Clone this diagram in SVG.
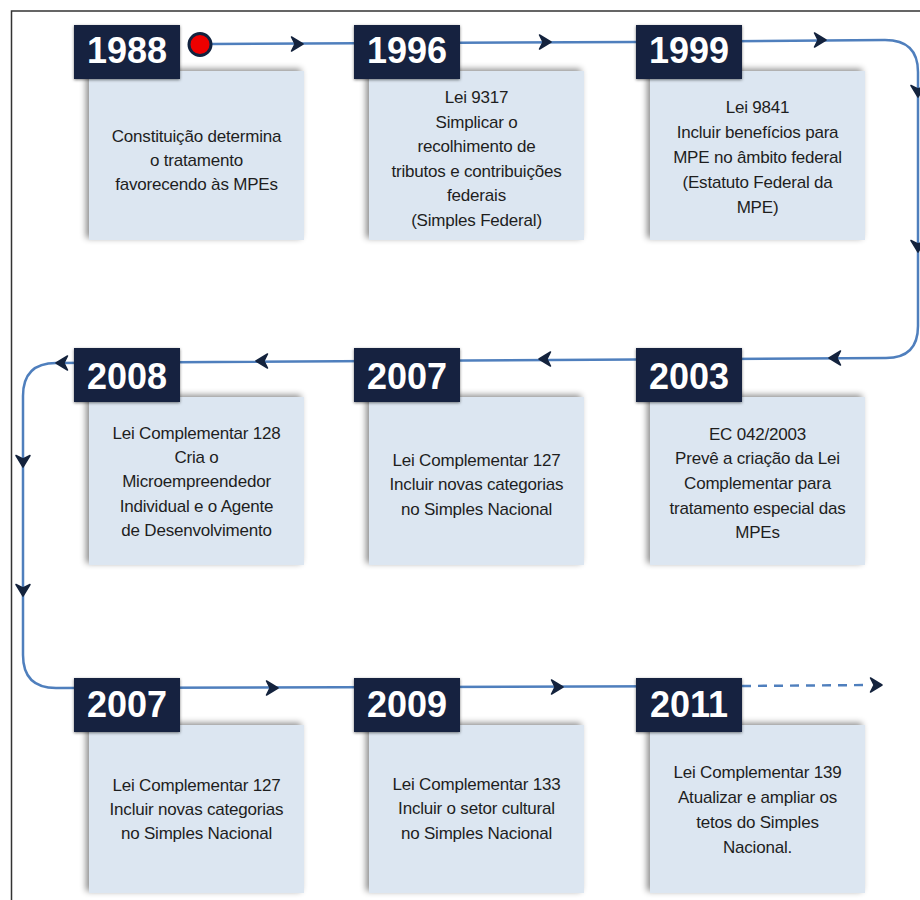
<svg xmlns="http://www.w3.org/2000/svg" width="920" height="900" viewBox="0 0 920 900">
<defs>
<style>
.yr{fill:#12233f}
.yt{font-family:"Liberation Sans",Arial,sans-serif;font-weight:bold;font-size:36px;fill:#ffffff;text-anchor:middle}
.cb{fill:#dce6f1}
.ct{font-family:"Liberation Sans",Arial,sans-serif;font-size:17px;fill:#1e1e1e;text-anchor:middle;letter-spacing:-0.2px}
.ln{fill:none;stroke:#4f7fbd;stroke-width:2.5}
.ar{fill:#14233d;stroke:#14233d;stroke-width:1.5;stroke-linejoin:round}
</style>
<filter id="sh" x="-20%" y="-20%" width="140%" height="140%">
<feDropShadow dx="-3" dy="-2" stdDeviation="3" flood-color="#000" flood-opacity="0.45"/>
</filter>
<filter id="sh2" x="-20%" y="-20%" width="140%" height="140%">
<feDropShadow dx="0" dy="1" stdDeviation="1.5" flood-color="#000" flood-opacity="0.5"/>
</filter>
<path id="a" d="M-5.5,-7 L6,0 L-5.5,7 L-2,0 Z"/>
</defs>
<rect width="920" height="900" fill="#ffffff"/>
<path d="M920,11 L11.5,11 L11.5,900" fill="none" stroke="#333" stroke-width="1.5"/>

<g id="connectors">
<path class="ln" d="M212,44 L636,42 L885,40 Q918,40 918,72 L918,326 Q918,358 886,358 L56,363 Q23,363 23,396 L23,655 Q23,688 56,688 L742,686"/>
<path class="ln" d="M742,686 L870,685" stroke-dasharray="9,7"/>
<use href="#a" class="ar" transform="translate(297,44)"/>
<use href="#a" class="ar" transform="translate(545,42)"/>
<use href="#a" class="ar" transform="translate(820,40)"/>
<use href="#a" class="ar" transform="translate(918,91) rotate(90)"/>
<use href="#a" class="ar" transform="translate(918,246) rotate(90)"/>
<use href="#a" class="ar" transform="translate(835,358) rotate(180)"/>
<use href="#a" class="ar" transform="translate(545,359) rotate(180)"/>
<use href="#a" class="ar" transform="translate(262,361) rotate(180)"/>
<use href="#a" class="ar" transform="translate(62,363) rotate(180)"/>
<use href="#a" class="ar" transform="translate(23,461) rotate(90)"/>
<use href="#a" class="ar" transform="translate(23,590) rotate(90)"/>
<use href="#a" class="ar" transform="translate(272,688)"/>
<use href="#a" class="ar" transform="translate(557,687)"/>
<use href="#a" class="ar" transform="translate(876,685)"/>
</g>

<g id="start">
<circle cx="200" cy="44.5" r="11" fill="#ee0000" stroke="#12233f" stroke-width="3"/>
</g>

<g id="n1988">
<rect class="cb" x="89" y="71" width="215" height="169" filter="url(#sh)"/>
<rect class="yr" x="74" y="25" width="106" height="54" filter="url(#sh2)"/>
<text class="yt" x="127" y="63">1988</text>
<text class="ct" x="196.5" y="142">Constituição determina</text>
<text class="ct" x="196.5" y="166">o tratamento</text>
<text class="ct" x="196.5" y="190">favorecendo às MPEs</text>
</g>

<g id="n1996">
<rect class="cb" x="369" y="71" width="215" height="169" filter="url(#sh)"/>
<rect class="yr" x="354" y="25" width="106" height="54" filter="url(#sh2)"/>
<text class="yt" x="407" y="63">1996</text>
<text class="ct" x="476.5" y="103">Lei 9317</text>
<text class="ct" x="476.5" y="128">Simplicar o</text>
<text class="ct" x="476.5" y="152">recolhimento de</text>
<text class="ct" x="476.5" y="177">tributos e contribuições</text>
<text class="ct" x="476.5" y="201">federais</text>
<text class="ct" x="476.5" y="226">(Simples Federal)</text>
</g>

<g id="n1999">
<rect class="cb" x="650" y="71" width="215" height="169" filter="url(#sh)"/>
<rect class="yr" x="636" y="25" width="106" height="54" filter="url(#sh2)"/>
<text class="yt" x="689" y="63">1999</text>
<text class="ct" x="757.5" y="113">Lei 9841</text>
<text class="ct" x="757.5" y="138">Incluir benefícios para</text>
<text class="ct" x="757.5" y="163">MPE no âmbito federal</text>
<text class="ct" x="757.5" y="188">(Estatuto Federal da</text>
<text class="ct" x="757.5" y="213">MPE)</text>
</g>

<g id="n2008">
<rect class="cb" x="89" y="397" width="215" height="168" filter="url(#sh)"/>
<rect class="yr" x="74" y="348" width="106" height="54" filter="url(#sh2)"/>
<text class="yt" x="127" y="389">2008</text>
<text class="ct" x="196.5" y="439">Lei Complementar 128</text>
<text class="ct" x="196.5" y="463">Cria o</text>
<text class="ct" x="196.5" y="487">Microempreendedor</text>
<text class="ct" x="196.5" y="512">Individual e o Agente</text>
<text class="ct" x="196.5" y="536">de Desenvolvimento</text>
</g>

<g id="n2007a">
<rect class="cb" x="369" y="397" width="215" height="168" filter="url(#sh)"/>
<rect class="yr" x="354" y="348" width="106" height="54" filter="url(#sh2)"/>
<text class="yt" x="407" y="389">2007</text>
<text class="ct" x="476.5" y="466">Lei Complementar 127</text>
<text class="ct" x="476.5" y="490">Incluir novas categorias</text>
<text class="ct" x="476.5" y="515">no Simples Nacional</text>
</g>

<g id="n2003">
<rect class="cb" x="650" y="397" width="215" height="168" filter="url(#sh)"/>
<rect class="yr" x="636" y="348" width="106" height="54" filter="url(#sh2)"/>
<text class="yt" x="689" y="389">2003</text>
<text class="ct" x="757.5" y="440">EC 042/2003</text>
<text class="ct" x="757.5" y="464">Prevê a criação da Lei</text>
<text class="ct" x="757.5" y="489">Complementar para</text>
<text class="ct" x="757.5" y="514">tratamento especial das</text>
<text class="ct" x="757.5" y="538">MPEs</text>
</g>

<g id="n2007b">
<rect class="cb" x="89" y="725" width="215" height="168" filter="url(#sh)"/>
<rect class="yr" x="74" y="678" width="106" height="54" filter="url(#sh2)"/>
<text class="yt" x="127" y="717">2007</text>
<text class="ct" x="196.5" y="791">Lei Complementar 127</text>
<text class="ct" x="196.5" y="815">Incluir novas categorias</text>
<text class="ct" x="196.5" y="839">no Simples Nacional</text>
</g>

<g id="n2009">
<rect class="cb" x="369" y="725" width="215" height="168" filter="url(#sh)"/>
<rect class="yr" x="354" y="678" width="106" height="54" filter="url(#sh2)"/>
<text class="yt" x="407" y="717">2009</text>
<text class="ct" x="476.5" y="790">Lei Complementar 133</text>
<text class="ct" x="476.5" y="814">Incluir o setor cultural</text>
<text class="ct" x="476.5" y="839">no Simples Nacional</text>
</g>

<g id="n2011">
<rect class="cb" x="650" y="725" width="215" height="168" filter="url(#sh)"/>
<rect class="yr" x="636" y="678" width="106" height="54" filter="url(#sh2)"/>
<text class="yt" x="689" y="717">2011</text>
<text class="ct" x="757.5" y="778">Lei Complementar 139</text>
<text class="ct" x="757.5" y="803">Atualizar e ampliar os</text>
<text class="ct" x="757.5" y="828">tetos do Simples</text>
<text class="ct" x="757.5" y="853">Nacional.</text>
</g>
</svg>
